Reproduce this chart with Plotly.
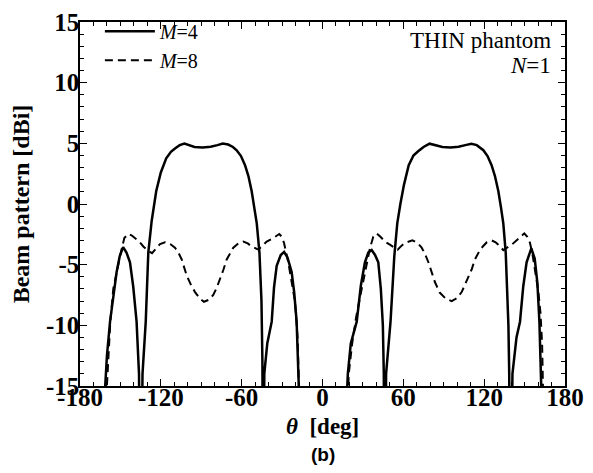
import plotly.graph_objects as go

# M=4 (solid) pattern, theta in deg, value in dBi
theta_m4 = [-161.8, -160, -157.7, -155, -152.8, -150.5, -148, -145.5, -142.9, -140.5, -138, -136.2, -135, -133.6,
            -131.2, -129.3, -128, -126.8, -123.4, -120, -116, -112.5, -109.5, -106, -102.5, -99, -95, -89, -83,
            -78, -74, -70, -66.5, -63.7, -60.5, -57.5, -55, -52.6, -50.5, -48.8, -46.8, -45.3, -44.6, -44, -43.2,
            -41, -37.7, -36, -34, -31, -28.5, -26, -22.9, -21, -19.2, -17.9, -17.3,
            None,
            18.0, 18.8, 21, 25.4, 28.5, 31.5, 34, 36.5, 39, 41.4, 43.3, 44.8, 45.5, 46.2, 47.2,
            50.5, 53.3, 55.5, 57.8, 60.5, 64, 67.5, 71, 75, 79.5, 84, 89, 95, 101, 106, 110.5, 114.5, 117.5,
            119.4, 122.5, 125.5, 128, 130.5, 132.5, 134.2, 136, 137.2, 138.0, 138.6, 139.3, 141, 144, 146.6,
            149, 151.5, 155, 157.5, 159.5, 161, 162, 162.6]
beam_m4 = [-16, -12.5, -9.7, -7.2, -5.6, -4.3, -3.55, -4.0, -4.8, -6.8, -9.7, -14, -30, -14,
           -9.7, -4.0, -2.4, -1.4, 1.07, 2.6, 3.76, 4.3, 4.57, 4.85, 4.98, 4.85, 4.7, 4.65, 4.72,
           4.85, 4.98, 4.9, 4.7, 4.43, 3.95, 3.2, 2.3, 1.07, -0.3, -1.6, -4, -8, -13, -30, -14,
           -11.5, -9.7, -6.9, -5.1, -4.2, -3.95, -4.4, -5.6, -7.3, -9.7, -13, -16,
           None,
           -16, -14, -11.5, -9.7, -6.7, -4.8, -4.0, -3.8, -4.2, -4.8, -7, -10, -14, -30, -14,
           -9.7, -4.3, -1.6, 0, 1.6, 3.2, 4.0, 4.35, 4.7, 4.97, 4.85, 4.7, 4.65, 4.72, 4.85, 4.97, 4.85, 4.6,
           4.43, 3.95, 3.2, 2.3, 1.07, -0.3, -1.6, -4, -7, -10, -14, -30, -14, -11, -9.7,
           -6.8, -4.8, -3.65, -4.5, -6.5, -9.7, -13, -16]

# M=8 (dashed) pattern
theta_m8 = [-160.5, -159, -157.5, -155.3, -152.5, -150.3, -147.1, -144.1, -141.5, -139.2, -136, -133, -129.5,
            -126.5, -123.5, -120.6, -116.9, -113, -109.5, -107, -104.5, -100.8, -97.5, -94.6, -91, -88, -84.5,
            -81.1, -78.5, -76.1, -73.5, -71.1, -68.5, -66.2, -62.5, -58.8, -55.5, -52.6, -47.6, -44.5, -41.4,
            -36.5, -32.1, -30.2, -28.6, -25.4, -23, -20.4, -18.5, -17.2,
            None,
            18.8, 19.5, 22, 25, 29.1, 32, 35.3, 37.7, 40.2, 43, 46.4, 50, 53.8, 55.8, 58.5, 61.2, 66.7, 70.5,
            73.6, 76, 78.6, 81, 83.5, 87, 91.5, 95.9, 100, 103.3, 107, 110.7, 113, 115.7, 119, 122, 125.6, 128.5,
            130.5, 134.2, 137, 140.4, 145, 149.8, 152, 154, 155.8, 157.7, 160.2, 161.8, 163, 163.8]
beam_m8 = [-16, -12.5, -9.7, -7, -5.4, -4.3, -2.8, -2.47, -2.6, -2.8, -3.1, -3.5, -3.85,
           -4.05, -3.7, -3.3, -3.15, -3.3, -3.6, -4.0, -4.57, -5.9, -6.7, -7.26, -7.8, -8.06, -7.9,
           -7.5, -6.9, -6.2, -5.4, -4.57, -4.0, -3.6, -3.25, -3.1, -3.25, -3.5, -3.76, -3.45, -3.1,
           -2.8, -2.47, -2.7, -3.2, -4.8, -6.3, -8.06, -11, -16,
           None,
           -16, -14, -11.5, -9.3, -7, -5.4, -3.6, -2.7, -2.42, -2.7, -3.1, -3.35, -3.6, -3.76, -3.45, -3.2, -3.0, -3.2,
           -3.6, -4.1, -4.8, -5.6, -6.45, -7.3, -7.8, -8.0, -7.75, -7.26, -6.4, -5.4, -4.6, -4.03, -3.5, -3.15, -3.0, -3.15,
           -3.36, -3.8, -3.6, -3.36, -2.9, -2.42, -2.7, -3.2, -4.1, -5.4, -7.2, -9, -11.5, -16]

x_ticks = [-180, -120, -60, 0, 60, 120, 180]
y_ticks = [-15, -10, -5, 0, 5, 10, 15]

SERIF = "Liberation Serif"

fig = go.Figure()
fig.add_trace(go.Scatter(x=theta_m4, y=beam_m4, mode="lines", name="<i>M</i>=4",
                         line=dict(color="black", width=2.5), connectgaps=False))
fig.add_trace(go.Scatter(x=theta_m8, y=beam_m8, mode="lines", name="<i>M</i>=8",
                         line=dict(color="black", width=2, dash="8px,5px"), connectgaps=False))

axis_common = dict(
    showline=True, linecolor="black", linewidth=1.5, mirror="allticks",
    ticks="inside", ticklen=7, tickwidth=1.2, tickcolor="black",
    showgrid=False, zeroline=False, automargin=False,
    tickfont=dict(family=SERIF, size=25, color="black", weight="bold"),
)

fig.update_xaxes(range=[-180, 180], tickvals=x_ticks, ticktext=[str(v) for v in x_ticks],
                 ticklabelstandoff=-12,
                 minor=dict(dtick=10, ticks="inside", ticklen=4, tickcolor="black", tickwidth=1),
                 **axis_common)
fig.update_yaxes(range=[-15, 15], tickvals=y_ticks, ticktext=[str(v) for v in y_ticks],
                 ticklabelstandoff=-6,
                 minor=dict(dtick=1, ticks="inside", ticklen=4, tickcolor="black", tickwidth=1),
                 title=dict(text="<b>Beam pattern [dBi]</b>", font=dict(family=SERIF, size=24, color="black"), standoff=10),
                 **axis_common)

fig.update_layout(
    template="none",
    width=593, height=473,
    margin=dict(l=80, r=28, t=14, b=87),
    paper_bgcolor="white", plot_bgcolor="white",
    showlegend=True,
    legend=dict(x=0.041, y=1.028, xanchor="left", yanchor="top", bgcolor="rgba(0,0,0,0)",
                font=dict(family=SERIF, size=20, color="black"), tracegroupgap=0, itemwidth=50),
    annotations=[
        dict(text="<b><i>θ</i>  [deg]</b>", x=0.5, y=-0.112, xref="paper", yref="paper", xanchor="center",
             yanchor="middle", showarrow=False, font=dict(family=SERIF, size=23, color="black")),
        dict(text="THIN phantom", x=0.975, y=0.948, xref="paper", yref="paper", xanchor="right", yanchor="middle",
             showarrow=False, font=dict(family=SERIF, size=23, color="black")),
        dict(text="<i>N</i>=1", x=0.975, y=0.881, xref="paper", yref="paper", xanchor="right", yanchor="middle",
             showarrow=False, font=dict(family=SERIF, size=23, color="black")),
        dict(text="<b>(b)</b>", x=0.5, y=-0.188, xref="paper", yref="paper", xanchor="center", yanchor="middle",
             showarrow=False, font=dict(family="Liberation Sans", size=19, color="black")),
    ],
)

fig.write_html("out.html")
